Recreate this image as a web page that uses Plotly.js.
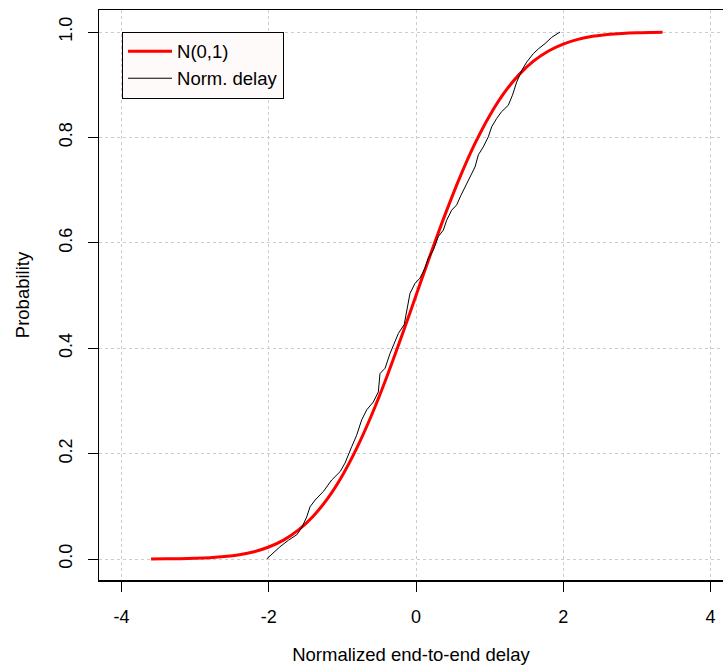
<!DOCTYPE html>
<html>
<head>
<meta charset="utf-8">
<script src="https://cdn.plot.ly/plotly-3.0.1.min.js"></script>
<style>html,body{margin:0;padding:0;background:#fff;}#chart{width:723px;height:671px;}</style>
</head>
<body>
<div id="chart"></div>
<script>
// N(0,1) CDF curve
const normX = [-3.6,-3.4,-3.2,-3.0,-2.8,-2.6,-2.4,-2.2,-2.0,-1.8,-1.6,-1.4,-1.2,-1.0,-0.8,-0.6,-0.4,-0.2,0,0.2,0.4,0.6,0.8,1.0,1.2,1.4,1.6,1.8,2.0,2.2,2.4,2.6,2.8,3.0,3.2,3.35];
const normY = [0.00016,0.00034,0.00069,0.00135,0.00256,0.00466,0.0082,0.0139,0.0228,0.0359,0.0548,0.0808,0.1151,0.1587,0.2119,0.2743,0.3446,0.4207,0.5,0.5793,0.6554,0.7257,0.7881,0.8413,0.8849,0.9192,0.9452,0.9641,0.9772,0.9861,0.9918,0.9953,0.9974,0.99865,0.99931,0.9996];
const delayX = [-2.03,-1.85,-1.73,-1.62,-1.55,-1.485,-1.44,-1.37,-1.26,-1.145,-1.03,-0.965,-0.874,-0.806,-0.738,-0.67,-0.58,-0.512,-0.489,-0.42,-0.353,-0.308,-0.24,-0.16,-0.127,-0.082,-0.014,0.054,0.122,0.167,0.235,0.303,0.371,0.417,0.485,0.553,0.61,0.666,0.734,0.802,0.847,0.914,0.982,1.028,1.096,1.164,1.254,1.31,1.368,1.436,1.504,1.594,1.662,1.753,1.844,1.957];
const delayY = [0,0.023,0.036,0.046,0.060,0.080,0.099,0.112,0.128,0.150,0.166,0.182,0.213,0.235,0.264,0.283,0.298,0.317,0.352,0.362,0.39,0.406,0.428,0.445,0.472,0.504,0.523,0.533,0.552,0.571,0.586,0.612,0.624,0.643,0.662,0.672,0.69,0.706,0.725,0.744,0.767,0.782,0.801,0.82,0.836,0.849,0.861,0.88,0.905,0.927,0.943,0.959,0.968,0.978,0.99,1.0];
const xTicks = [-4,-2,0,2,4];
const xTickText = ["-4","-2","0","2","4"];
const yTicks = [0,0.2,0.4,0.6,0.8,1.0];
const yTickText = ["0.0","0.2","0.4","0.6","0.8","1.0"];

const FONT = "Liberation Sans, Arial, Helvetica, sans-serif";

const traces = [
  {x: normX, y: normY, type: "scatter", mode: "lines", name: "N(0,1)",
   line: {color: "#ff0000", width: 3, shape: "spline"}},
  {x: delayX, y: delayY, type: "scatter", mode: "lines", name: "Norm. delay",
   line: {color: "#000000", width: 1}}
];

const layout = {
  width: 723, height: 671,
  margin: {l: 99, r: 0, t: 10, b: 91},
  paper_bgcolor: "#ffffff", plot_bgcolor: "#ffffff",
  font: {family: FONT, size: 18, color: "#000"},
  showlegend: true,
  legend: {x: 0.0369, y: 0.962, xanchor: "left", yanchor: "top",
           bgcolor: "#fffafa", bordercolor: "#000", borderwidth: 1,
           itemwidth: 44,
           font: {family: FONT, size: 18.5, color: "#000"}},
  xaxis: {
    range: [-4.307, 4.171], tickvals: xTicks, ticktext: xTickText,
    showline: true, linecolor: "#000", linewidth: 1.5, mirror: true,
    ticks: "outside", ticklen: 10, tickwidth: 1, tickcolor: "#000",
    ticklabelstandoff: 10,
    showgrid: true, gridcolor: "#cccccc", griddash: "dot", gridwidth: 1,
    zeroline: false,
    title: {text: "Normalized end-to-end delay", font: {family: FONT, size: 18.5}, standoff: 22},
    automargin: false
  },
  yaxis: {
    range: [-0.0398, 1.0418], tickvals: yTicks, ticktext: yTickText,
    tickangle: -90,
    showline: true, linecolor: "#000", linewidth: 1.5, mirror: false,
    ticks: "outside", ticklen: 10, tickwidth: 1, tickcolor: "#000",
    ticklabelstandoff: 8,
    showgrid: true, gridcolor: "#cccccc", griddash: "dot", gridwidth: 1,
    zeroline: false,
    title: {text: "Probability", font: {family: FONT, size: 18.5}, standoff: 22},
    automargin: false
  }
};

Plotly.newPlot("chart", traces, layout, {displayModeBar: false, staticPlot: true});
</script>
</body>
</html>
